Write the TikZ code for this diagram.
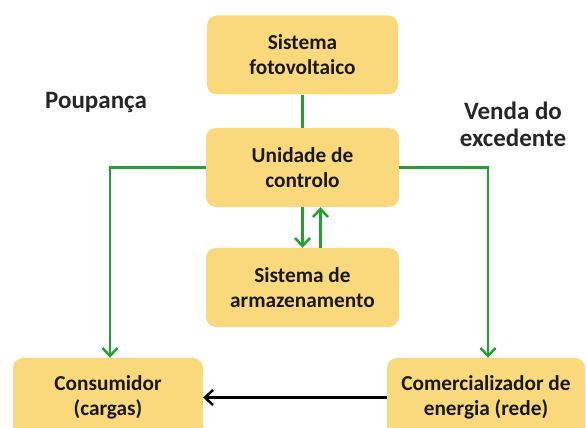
\documentclass[tikz,border=0pt]{standalone}
\usepackage{fontspec}
\setmainfont{Carlito}
\usetikzlibrary{arrows.meta}
\definecolor{boxfill}{RGB}{250,217,125}
\definecolor{flowgreen}{RGB}{34,160,50}
\begin{document}
\begin{tikzpicture}[node distance = 112.5pt, auto,
    box/.style = {fill = boxfill, rounded corners = 10pt, minimum width = 193pt,
                  minimum height = 79pt, align = center, inner sep = 2pt,
                  font = \fontsize{21.3}{25}\selectfont\bfseries, text = black!90},
    lbl/.style = {align = center, font = \fontsize{25}{27}\selectfont\bfseries, text = black!85},
    flow/.style = {draw = flowgreen, line width = 2.5pt},
    >={Straight Barb[length=8pt, width=15pt]}]
     \useasboundingbox (0,0) rectangle (586pt,428pt);
     % the nodes
     \node (fv) [box, minimum width = 191pt] at (302.5pt,373pt) {Sistema\\fotovoltaico};
     \node (controlo) [box, below of = fv] {Unidade de\\controlo};
     \node (armazenamento) [box, below of = controlo, node distance = 120pt] {Sistema de\\armazenamento};
     \node (consumidor) [box, minimum width = 190pt] at (108pt,30.5pt) {Consumidor\\(cargas)};
     \node (comercializador) [box, minimum width = 198pt, right of = consumidor, node distance = 378pt] {Comercializador de\\energia (rede)};
     \node (poupanca) [lbl] at (96pt,326pt) {Poupança};
     \node (venda) [lbl] at (513pt,304pt) {Venda do\\excedente};
     % the arrows
     \draw[flow] (fv) -- (controlo);
     \draw[flow, ->] (controlo.south) -- (armazenamento.north);
     \draw[flow, ->] ([xshift=18pt]armazenamento.north) -- ([xshift=18pt]controlo.south);
     \draw[flow, ->] (controlo.west) -| ([xshift=2pt]consumidor.north);
     \draw[flow, ->] (controlo.east) -| ([xshift=2pt]comercializador.north);
     \draw[->, line width = 2.5pt] (comercializador) -- (consumidor);
    \end{tikzpicture}
\end{document}
